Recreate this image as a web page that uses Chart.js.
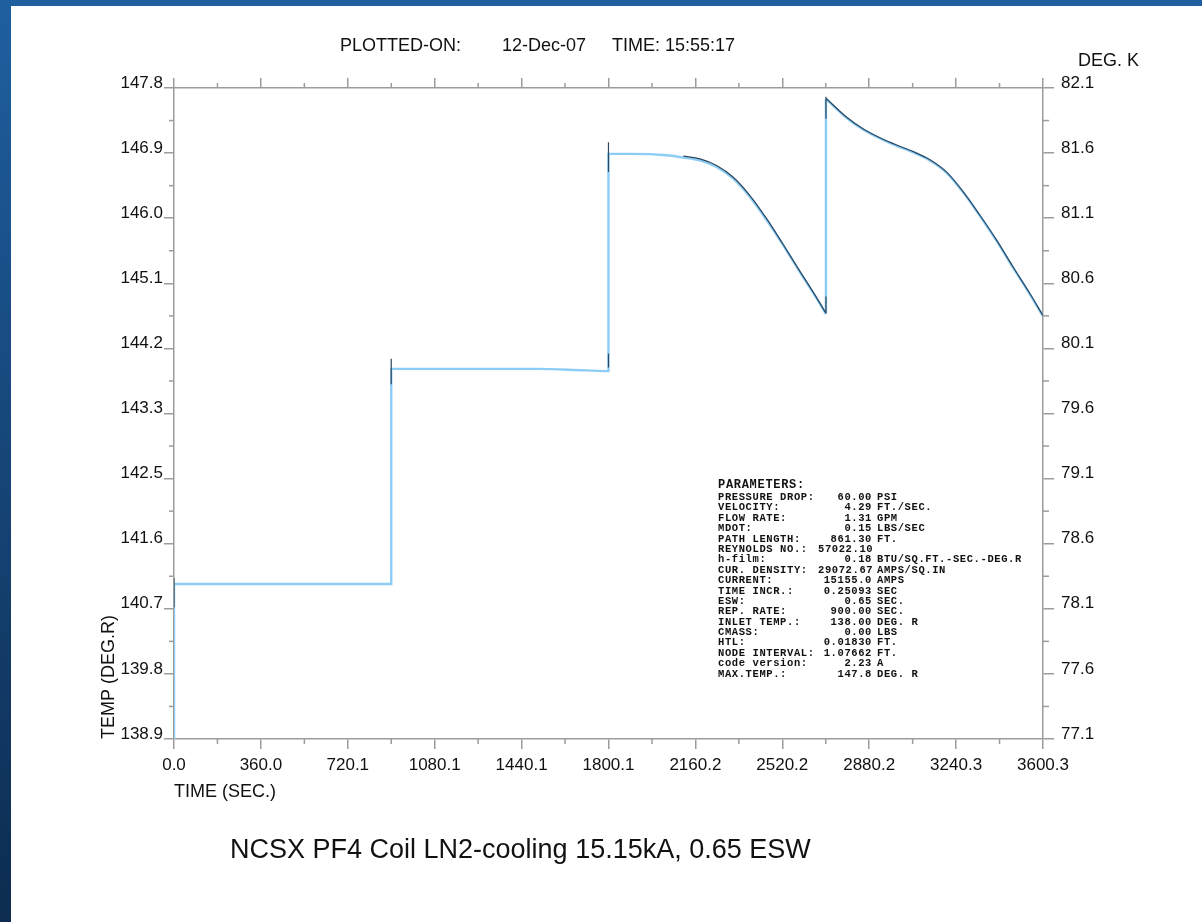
<!DOCTYPE html>
<html>
<head>
<meta charset="utf-8">
<script src="https://cdn.jsdelivr.net/npm/chart.js@4.4.0/dist/chart.umd.min.js"></script>
<style>
  html, body { margin: 0; padding: 0; }
  body {
    width: 1202px; height: 922px; overflow: hidden; position: relative;
    background: linear-gradient(to bottom, #1f5fa0, #0d2c50);
    font-family: "Liberation Sans", Arial, sans-serif;
  }
  #sheet { position: absolute; left: 11px; top: 6px; right: 0; bottom: 0; background: #fff; }
  #chart { position: absolute; left: 0; top: 0; }
  .txt { position: absolute; white-space: nowrap; color: #111; line-height: 1; }
  #params { position: absolute; left: 718px; top: 479px; font-family: "Liberation Mono", monospace; font-weight: bold; color: #111; }
  #params .head { font-size: 12px; line-height: 12px; height: 13px; letter-spacing: 0.7px; }
  #params .row { font-size: 10.5px; line-height: 10.4px; height: 10.4px; white-space: nowrap; letter-spacing: 0.6px; }
  #params .k { display: inline-block; width: 100px; }
  #params .v { display: inline-block; width: 54px; text-align: right; }
  #params .u { margin-left: 5px; }
</style>
</head>
<body>
<div id="sheet"></div>
<canvas id="chart" width="1202" height="922"></canvas>
<div class="txt" style="left:340px; top:36px; font-size:18px;">PLOTTED-ON:</div>
<div class="txt" style="left:502px; top:36px; font-size:18px;">12-Dec-07</div>
<div class="txt" style="left:612px; top:36px; font-size:18px;">TIME: 15:55:17</div>
<div class="txt" style="left:1078px; top:51px; font-size:18px;">DEG. K</div>
<div class="txt" style="left:230px; top:836px; font-size:27px;">NCSX PF4 Coil LN2-cooling 15.15kA, 0.65 ESW</div>
<div id="params"></div>
<script>
// tick labels
const timeTicks = ["0.0", "360.0", "720.1", "1080.1", "1440.1", "1800.1", "2160.2", "2520.2", "2880.2", "3240.3", "3600.3"];
const tempTicks = ["138.9", "139.8", "140.7", "141.6", "142.5", "143.3", "144.2", "145.1", "146.0", "146.9", "147.8"];
const kelvinTicks = ["77.1", "77.6", "78.1", "78.6", "79.1", "79.6", "80.1", "80.6", "81.1", "81.6", "82.1"];

// light blue trace (sec, deg R); null = break so the curves don't bend into the jump
const lightTime = [0, 0, 900, 900, 1500, 1700, 1800, 1800, 1900, 2040,
  2110, 2179, 2248, 2317, 2386, 2456, 2524, 2594, 2663, 2701,
  2701, 2701, 2701, 2701,
  2701, 2787, 2856, 2925, 2994, 3063, 3132, 3201, 3270,
  3339, 3408, 3477, 3546, 3600];
const lightTemp = [138.9, 141.02, 141.02, 143.96, 143.96, 143.94, 143.93, 146.90, 146.90, 146.88,
  146.85, 146.81, 146.72, 146.56, 146.31, 145.99, 145.65, 145.28, 144.92, 144.71,
  null, 144.71, 147.65, null,
  147.65, 147.39, 147.23, 147.11, 147.01, 146.92, 146.81, 146.64, 146.37,
  146.05, 145.71, 145.34, 144.98, 144.68];

// dark trace, null = break
const darkTime = [0, 0, 0, 900, 900, 900, 1800, 1800, 1800, 1800, 1800, 1800,
  2110, 2179, 2248, 2317, 2386, 2456, 2524, 2594, 2663, 2701,
  2701, 2701, 2701, 2701,
  2701, 2701, 2701,
  2701, 2787, 2856, 2925, 2994, 3063, 3132, 3201, 3270, 3339, 3408, 3477, 3546, 3600];
const darkTemp = [140.7, 141.1, null, 143.75, 144.1, null, 143.98, 144.17, null, 146.65, 147.06, null,
  146.87, 146.83, 146.74, 146.58, 146.33, 146.01, 145.66, 145.29, 144.93, 144.72,
  null, 144.72, 144.95, null,
  147.38, 147.68, null,
  147.66, 147.40, 147.24, 147.12, 147.02, 146.93, 146.82, 146.65, 146.38, 146.06, 145.72, 145.35, 144.99, 144.69];

const paramRows = [
  ["PRESSURE DROP:", "60.00", "PSI"],
  ["VELOCITY:", "4.29", "FT./SEC."],
  ["FLOW RATE:", "1.31", "GPM"],
  ["MDOT:", "0.15", "LBS/SEC"],
  ["PATH LENGTH:", "861.30", "FT."],
  ["REYNOLDS NO.:", "57022.10", ""],
  ["h-film:", "0.18", "BTU/SQ.FT.-SEC.-DEG.R"],
  ["CUR. DENSITY:", "29072.67", "AMPS/SQ.IN"],
  ["CURRENT:", "15155.0", "AMPS"],
  ["TIME INCR.:", "0.25093", "SEC"],
  ["ESW:", "0.65", "SEC."],
  ["REP. RATE:", "900.00", "SEC."],
  ["INLET TEMP.:", "138.00", "DEG. R"],
  ["CMASS:", "0.00", "LBS"],
  ["HTL:", "0.01830", "FT."],
  ["NODE INTERVAL:", "1.07662", "FT."],
  ["code version:", "2.23", "A"],
  ["MAX.TEMP.:", "147.8", "DEG. R"]
];

const params = document.getElementById("params");
let html = '<div class="head">PARAMETERS:</div>';
paramRows.forEach((r) => {
  html += '<div class="row"><span class="k">' + r[0] + '</span><span class="v">' + r[1] + '</span><span class="u">' + r[2] + '</span></div>';
});
params.innerHTML = html;

const axisColor = "#9c9c9c";
const tickFont = { family: "'Liberation Sans', Arial, sans-serif", size: 17 };

function evenTicks(labels) {
  const lo = parseFloat(labels[0]);
  const hi = parseFloat(labels[labels.length - 1]);
  return labels.map((l, i) => ({ value: lo + (hi - lo) * i / (labels.length - 1) }));
}

// short ticks half way between the labelled ones
const minorLen = { x: 5, xTop: 5, y: 5, yK: 6 };
const minorTicks = {
  id: "minorTicks",
  afterDraw(chart) {
    const ctx = chart.ctx;
    ctx.save();
    ctx.strokeStyle = axisColor;
    ctx.lineWidth = 1.5;
    Object.keys(minorLen).forEach((id) => {
      const s = chart.scales[id];
      const len = minorLen[id];
      for (let i = 0; i < s.ticks.length - 1; i++) {
        const p = s.getPixelForValue((s.ticks[i].value + s.ticks[i + 1].value) / 2);
        ctx.beginPath();
        if (id === "x") { ctx.moveTo(p, s.top); ctx.lineTo(p, s.top + len); }
        else if (id === "xTop") { ctx.moveTo(p, s.bottom); ctx.lineTo(p, s.bottom - len); }
        else if (id === "y") { ctx.moveTo(s.right, p); ctx.lineTo(s.right - len, p); }
        else { ctx.moveTo(s.left, p); ctx.lineTo(s.left + len, p); }
        ctx.stroke();
      }
    });
    ctx.restore();
  }
};

const gridOpts = (len) => ({ drawOnChartArea: false, drawTicks: true, tickLength: len, color: axisColor, lineWidth: 1.5 });
const borderOpts = { display: true, color: axisColor, width: 1.5 };

const ctx = document.getElementById("chart").getContext("2d");
new Chart(ctx, {
  type: "line",
  data: {
    datasets: [
      {
        label: "dark",
        data: darkTime.map((t, i) => ({ x: t, y: darkTemp[i] })),
        borderColor: "#2c475e",
        borderWidth: 1.2,
        pointRadius: 0,
        spanGaps: false,
        cubicInterpolationMode: "monotone",
        xAxisID: "x",
        yAxisID: "y"
      },
      {
        label: "light",
        data: lightTime.map((t, i) => ({ x: t, y: lightTemp[i] })),
        borderColor: "#8ccdf5",
        borderWidth: 2.4,
        pointRadius: 0,
        spanGaps: false,
        cubicInterpolationMode: "monotone",
        xAxisID: "x",
        yAxisID: "y"
      }
    ]
  },
  options: {
    responsive: false,
    animation: false,
    devicePixelRatio: 1,
    layout: { padding: { left: 90, right: 60, top: 40, bottom: 100 } },
    plugins: { legend: { display: false }, tooltip: { enabled: false } },
    scales: {
      x: {
        type: "linear", position: "bottom",
        min: parseFloat(timeTicks[0]), max: parseFloat(timeTicks[timeTicks.length - 1]),
        afterBuildTicks: (s) => { s.ticks = evenTicks(timeTicks); },
        afterFit: (s) => { s.height = 922 - 100 - 739; },
        ticks: { autoSkip: false, maxRotation: 0, padding: 6, color: "#111", font: tickFont,
          callback: (v, i) => timeTicks[i] },
        grid: gridOpts(10),
        border: borderOpts,
        title: { display: true, text: "TIME (SEC.)", align: "start", color: "#111",
          font: { family: "'Liberation Sans', Arial, sans-serif", size: 18 }, padding: { top: 0, bottom: 19 } }
      },
      xTop: {
        type: "linear", position: "top",
        min: parseFloat(timeTicks[0]), max: parseFloat(timeTicks[timeTicks.length - 1]),
        afterBuildTicks: (s) => { s.ticks = evenTicks(timeTicks); },
        afterFit: (s) => { s.height = 88 - 40; },
        ticks: { display: false },
        grid: gridOpts(10),
        border: borderOpts
      },
      y: {
        type: "linear", position: "left",
        min: parseFloat(tempTicks[0]), max: parseFloat(tempTicks[tempTicks.length - 1]),
        afterBuildTicks: (s) => { s.ticks = evenTicks(tempTicks); },
        afterFit: (s) => { s.width = 174 - 90; },
        ticks: { autoSkip: false, padding: 1, labelOffset: -5, color: "#111", font: tickFont,
          callback: (v, i) => tempTicks[i] },
        grid: gridOpts(10),
        border: borderOpts,
        title: { display: true, text: "TEMP (DEG.R)", align: "start", color: "#111",
          font: { family: "'Liberation Sans', Arial, sans-serif", size: 18 }, padding: { top: 8, bottom: 0 } }
      },
      yK: {
        type: "linear", position: "right",
        min: parseFloat(kelvinTicks[0]), max: parseFloat(kelvinTicks[kelvinTicks.length - 1]),
        afterBuildTicks: (s) => { s.ticks = evenTicks(kelvinTicks); },
        afterFit: (s) => { s.width = 1202 - 60 - 1043; },
        ticks: { autoSkip: false, padding: 7, labelOffset: -5, color: "#111", font: tickFont,
          callback: (v, i) => kelvinTicks[i] },
        grid: gridOpts(11),
        border: borderOpts
      }
    }
  },
  plugins: [minorTicks]
});
</script>
</body>
</html>
